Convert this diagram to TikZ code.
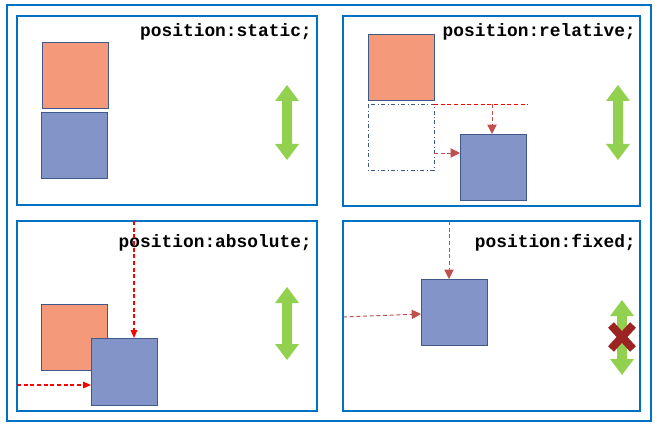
\documentclass[tikz,border=0pt]{standalone}
\usepackage{fontspec}
\setmonofont{Liberation Mono}
\usetikzlibrary{arrows.meta}
\definecolor{frame}{HTML}{0070C0}
\definecolor{org}{HTML}{F4997A}
\definecolor{blu}{HTML}{8394C9}
\definecolor{edge}{HTML}{3F5A8A}
\definecolor{grn}{HTML}{92D050}
\definecolor{rd}{HTML}{C0504D}
\definecolor{xred}{HTML}{9B2423}
\begin{document}
\begin{tikzpicture}[x=0.75pt,y=-0.75pt,
  panel/.style={draw=frame,line width=0.9pt},
  obox/.style={fill=org,draw=edge,line width=0.6pt},
  bbox/.style={fill=blu,draw=edge,line width=0.6pt},
  lbl/.style={font=\ttfamily\bfseries\fontsize{13.4}{15}\selectfont,anchor=east,inner sep=0},
  rarr/.style={draw=rd,densely dashed,line width=0.7pt,-{Triangle[length=7pt,width=7pt]}},
  rarr2/.style={draw=red,densely dashed,line width=0.8pt,-{Triangle[length=6pt,width=5pt]}}]
\newcommand{\greenarrow}[3]{% x, ytop, ybottom
  \fill[grn] (#1,#2) -- (#1+12,#2+16) -- (#1+5,#2+16) -- (#1+5,#3-16) -- (#1+12,#3-16) -- (#1,#3) -- (#1-12,#3-16) -- (#1-5,#3-16) -- (#1-5,#2+16) -- (#1-12,#2+16) -- cycle;}
\useasboundingbox (0,0) rectangle (660,431);
\draw[panel] (7,5) rectangle (651,421);
\draw[panel] (17,16) rectangle (317,205);
\draw[panel] (343,16) rectangle (640,206);
\draw[panel] (17,221) rectangle (317,411);
\draw[panel] (343,221) rectangle (640,411);
% static
\node[lbl] (t1) at (312,32) {position:static;};
\draw[obox] (42,42) rectangle (108,108);
\draw[bbox] (41,112) rectangle (107,178);
\greenarrow{287}{85}{160}
% relative
\node[lbl] (t2) at (636,32) {position:relative;};
\draw[obox] (368,34) rectangle (434,100);
\draw[edge,dash dot,line width=0.6pt] (368,104) rectangle (434,170);
\draw[bbox] (460,134) rectangle (526,200);
\draw[draw=red,densely dashed,line width=0.7pt] (434,104) -- (528,104);
\draw[rarr] (492,104) -- (492,134);
\draw[rarr] (434,153) -- (460,153);
\greenarrow{618}{85}{160}
% absolute
\node[lbl] (t3) at (312,243) {position:absolute;};
\draw[obox] (41,304) rectangle (107,370);
\draw[bbox] (91,338) rectangle (157,405);
\draw[rarr2] (134,221) -- (134,338);
\draw[rarr2] (17,385) -- (91,385);
\greenarrow{287}{287}{360}
% fixed
\node[lbl] (t4) at (636,243) {position:fixed;};
\draw[bbox] (421,279) rectangle (487,345);
\draw[rarr] (449,221) -- (449,279);
\draw[rarr] (343,317) -- (421,314);
\greenarrow{622}{300}{375}
\draw[xred,line width=6pt] (611,325) -- (633,349) (611,349) -- (633,325);
\end{tikzpicture}
\end{document}
